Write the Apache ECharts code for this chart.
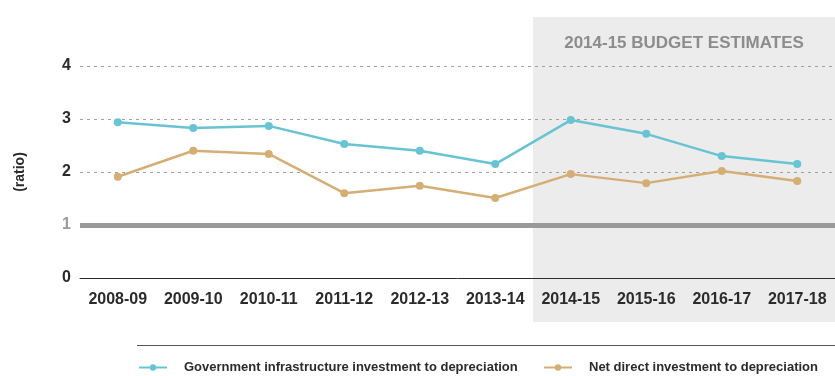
<!DOCTYPE html>
<html>
<head>
<meta charset="utf-8">
<script src="https://cdn.jsdelivr.net/npm/echarts@6/dist/echarts.min.js"></script>
<style>
  html, body { margin: 0; padding: 0; background: #fff; }
  #chart { width: 835px; height: 376px; }
</style>
</head>
<body>
<div id="chart"></div>
<script>
// Financial years shown on the category axis
const years = ['2008-09', '2009-10', '2010-11', '2011-12', '2012-13', '2013-14',
               '2014-15', '2015-16', '2016-17', '2017-18'];
// First year covered by the budget estimates band
const estimatesStart = '2014-15';
const estimatesLabel = '2014-15 BUDGET ESTIMATES';

// Ratios of investment to depreciation
const govInfrastructure = [2.94, 2.83, 2.87, 2.53, 2.40, 2.15, 2.98, 2.72, 2.30, 2.15];
const netDirect = [1.91, 2.40, 2.34, 1.60, 1.74, 1.51, 1.96, 1.79, 2.02, 1.83];
const seriesNames = ['Government infrastructure investment to depreciation',
                     'Net direct investment to depreciation'];
const yTicks = [0, 1, 2, 3, 4];
const parityLevel = 1;

const FONT = '"Liberation Sans", Arial, sans-serif';
const DARK = '#2b2b2b';
const BLUE = '#68c4d2';
const TAN = '#d5ae75';

const chart = echarts.init(document.getElementById('chart'));

const legendBase = {
  top: 361,
  padding: 0,
  itemWidth: 28,
  itemHeight: 8,
  textStyle: { color: DARK, fontFamily: FONT, fontWeight: 'bold', fontSize: 13, padding: [0, 0, 0, 12] }
};

const option = {
  animation: false,
  grid: { left: 80, right: 0, top: 66, bottom: 98 },
  xAxis: {
    type: 'category',
    data: years,
    boundaryGap: true,
    axisLine: { lineStyle: { color: DARK, width: 1 } },
    axisTick: { alignWithLabel: true, length: 6, lineStyle: { color: DARK } },
    axisLabel: { color: DARK, fontFamily: FONT, fontWeight: 'bold', fontSize: 16, margin: 14, interval: 0 },
    z: 5
  },
  yAxis: {
    type: 'value',
    min: yTicks[0],
    max: yTicks[yTicks.length - 1],
    interval: 1,
    name: '(ratio)',
    nameLocation: 'middle',
    nameRotate: 90,
    nameGap: 53,
    nameTextStyle: { color: DARK, fontFamily: FONT, fontWeight: 'bold', fontSize: 14 },
    axisLine: { show: false },
    axisTick: { show: false },
    axisLabel: {
      fontFamily: FONT, fontWeight: 'bold', fontSize: 16, margin: 9,
      color: v => (Number(v) === parityLevel ? '#9b9b9b' : DARK)
    },
    splitLine: {
      show: true,
      lineStyle: { color: '#a0a0a0', type: [3, 4], width: 1 }
    }
  },
  legend: [
    Object.assign({ left: 138, data: [seriesNames[0]] }, legendBase),
    Object.assign({ left: 543, data: [seriesNames[1]] }, legendBase)
  ],
  series: [
    {
      name: seriesNames[0],
      type: 'line',
      data: govInfrastructure,
      color: BLUE,
      symbol: 'circle',
      symbolSize: 8,
      lineStyle: { width: 2.5 },
      z: 4,
      markLine: {
        silent: true,
        symbol: 'none',
        label: { show: false },
        lineStyle: { color: '#999999', width: 5, type: 'solid' },
        data: [{ yAxis: parityLevel }],
        z: 3
      }
    },
    {
      name: seriesNames[1],
      type: 'line',
      data: netDirect,
      color: TAN,
      symbol: 'circle',
      symbolSize: 8,
      lineStyle: { width: 2.5 },
      z: 4
    }
  ]
};

chart.setOption(option);

// Shade the estimates years, starting at the left edge of the first estimate band
const idx = years.indexOf(estimatesStart);
const cStart = chart.convertToPixel({ xAxisIndex: 0 }, years[idx]);
const cNext = chart.convertToPixel({ xAxisIndex: 0 }, years[idx + 1]);
const bandLeft = cStart - (cNext - cStart) / 2;
const width = chart.getWidth();

chart.setOption({
  graphic: [
    {
      type: 'rect',
      z: -10,
      silent: true,
      shape: { x: bandLeft, y: 17, width: width - bandLeft, height: 305 },
      style: { fill: '#ececec' }
    },
    {
      type: 'text',
      z: 10,
      silent: true,
      x: (bandLeft + width) / 2,
      y: 43,
      style: {
        text: estimatesLabel,
        fill: '#8c8c8c',
        font: 'bold 17px ' + FONT,
        align: 'center',
        verticalAlign: 'middle'
      }
    },
    {
      type: 'line',
      silent: true,
      shape: { x1: 137, y1: 345.5, x2: width, y2: 345.5 },
      style: { stroke: '#555555', lineWidth: 1 }
    }
  ]
});
</script>
</body>
</html>
